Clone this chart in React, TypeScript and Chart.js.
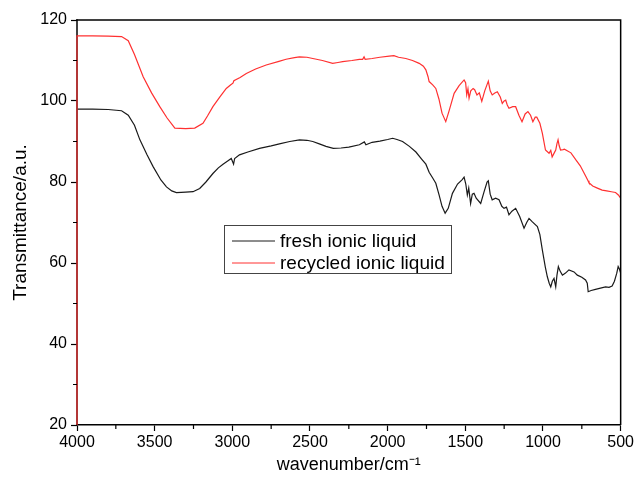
import React, { useEffect, useRef } from "react";
import { Chart, registerables } from "chart.js";

Chart.register(...registerables);

const seriesLabels = ["fresh ionic liquid", "recycled ionic liquid"];
const seriesColors = ["#1a1a1a", "#ff3030"];

const freshWave = [
  4000, 3900, 3800, 3713, 3670, 3630, 3595, 3550, 3510, 3460, 3424, 3390, 3360, 3300, 3253, 3210, 3170, 3125,
  3090, 3060, 3030, 3007, 2998, 2992, 2985, 2954, 2900, 2825, 2750, 2697, 2630, 2568, 2520, 2482, 2440, 2397,
  2350, 2300, 2250, 2182, 2150, 2140, 2100, 2050, 2000, 1968, 1940, 1904, 1860, 1818, 1780, 1754, 1733, 1710,
  1690, 1669, 1650, 1630, 1610, 1583, 1550, 1520, 1508, 1497, 1487, 1478, 1466, 1455, 1444, 1430, 1401, 1380,
  1360, 1352, 1340, 1327, 1305, 1283, 1265, 1251, 1235, 1219, 1200, 1176, 1150, 1122, 1105, 1090, 1070, 1036,
  1020, 1004, 985, 972, 960, 950, 940, 929, 918, 910, 901, 890, 875, 855, 833, 800, 779, 750, 726, 715, 709,
  690, 662, 630, 597, 575, 555, 540, 525, 516, 508, 500,
];
const freshValues = [
  98.0, 98.0, 97.9, 97.6, 96.5, 94.0, 90.4, 86.8, 83.8, 80.5, 78.8, 77.8, 77.4, 77.5, 77.6, 78.4, 80.0, 82.1,
  83.5, 84.4, 85.2, 85.8, 85.0, 84.4, 85.8, 86.7, 87.4, 88.3, 88.9, 89.4, 90.0, 90.4, 90.3, 90.0, 89.4, 88.8,
  88.3, 88.4, 88.6, 89.2, 89.9, 89.2, 89.8, 90.1, 90.5, 90.8, 90.5, 90.0, 88.8, 87.4, 85.6, 84.4, 82.4, 81.0,
  79.7, 76.8, 74.0, 72.3, 73.5, 77.2, 79.5, 80.6, 81.2, 79.5, 76.8, 78.5, 74.7, 77.0, 77.2, 76.0, 74.7, 77.5,
  80.0, 80.3, 77.0, 75.6, 76.0, 75.6, 74.0, 73.5, 73.8, 71.9, 72.8, 73.5, 71.5, 68.6, 70.0, 71.0, 70.2, 69.0,
  67.0, 63.2, 59.0, 56.6, 55.0, 54.1, 55.5, 56.2, 54.1, 57.0, 59.1, 58.0, 57.0, 57.5, 58.3, 57.8, 57.0, 56.5,
  55.8, 55.0, 52.9, 53.2, 53.5, 53.8, 54.1, 54.0, 54.3, 55.5, 57.5, 59.1, 58.5, 57.5,
];

const recycledWave = [
  4000, 4000, 3900, 3800, 3713, 3670, 3630, 3574, 3520, 3467, 3420, 3370, 3300, 3242, 3189, 3160, 3125, 3080,
  3039, 3010, 2996, 2990, 2950, 2910, 2850, 2782, 2700, 2654, 2600, 2568, 2520, 2482, 2420, 2354, 2320, 2290,
  2230, 2182, 2161, 2152, 2145, 2100, 2050, 1990, 1960, 1930, 1883, 1840, 1797, 1770, 1754, 1740, 1733, 1710,
  1690, 1670, 1650, 1626, 1605, 1572, 1540, 1508, 1498, 1491, 1483, 1476, 1465, 1450, 1440, 1425, 1410, 1394,
  1375, 1352, 1340, 1327, 1310, 1294, 1275, 1262, 1250, 1240, 1230, 1219, 1195, 1176, 1155, 1135, 1115, 1097,
  1080, 1065, 1050, 1040, 1020, 1004, 984, 961, 950, 941, 930, 918, 910, 903, 896, 887, 870, 862, 820, 787,
  760, 723, 710, 704, 680, 650, 619, 590, 560, 533, 515, 500,
];
const recycledValues = [
  20.0, 116.1, 116.1, 116.0, 115.9, 114.9, 111.5, 106.0, 102.0, 98.6, 95.8, 93.3, 93.2, 93.3, 94.5, 96.3, 98.6,
  101.0, 103.1, 104.0, 104.4, 105.0, 105.8, 106.8, 107.9, 108.9, 109.8, 110.3, 110.7, 110.9, 110.8, 110.5,
  110.0, 109.3, 109.5, 109.7, 110.0, 110.3, 110.3, 110.9, 110.3, 110.5, 110.8, 111.1, 111.2, 110.8, 110.5,
  110.0, 109.3, 108.6, 107.7, 106.0, 104.8, 104.0, 103.1, 100.5, 97.0, 94.9, 97.5, 101.9, 103.8, 105.2, 104.5,
  101.5, 103.0, 100.7, 102.5, 103.1, 102.8, 101.5, 102.0, 99.9, 102.5, 104.9, 102.5, 101.5, 102.0, 102.3,
  101.0, 99.4, 100.0, 100.2, 99.0, 98.2, 98.6, 98.6, 96.5, 94.9, 96.8, 97.4, 96.5, 94.9, 96.0, 96.0, 94.5,
  92.0, 87.9, 87.1, 87.8, 86.2, 87.0, 87.9, 89.5, 90.4, 89.0, 87.9, 88.0, 88.1, 87.2, 85.4, 84.0, 81.3, 80.3,
  79.8, 79.0, 78.5, 78.0, 77.8, 77.6, 77.4, 76.8, 76.0,
];

const xMin = 500;
const xMax = 4000;
const xStep = 500;
const xMinorTicks = [3750, 3250, 2750, 2250, 1750, 1250, 750];
const yMin = 20;
const yMax = 120;
const yStep = 20;
const yMinorTicks = [30, 50, 70, 90, 110];

const xTitle = "wavenumber/cm\u207B\u00B9";
const yTitle = "Transmittance/a.u.";

const FONT = "'Liberation Sans', Arial, sans-serif";

export default function App() {
  const ref = useRef<HTMLCanvasElement | null>(null);

  useEffect(() => {
    document.body.style.margin = "0";
    const canvas = ref.current;
    if (!canvas) return;

    const framePlugin = {
      id: "frame",
      beforeDatasetsDraw(chart: any) {
        const { ctx, chartArea } = chart;
        ctx.save();
        ctx.strokeStyle = "#000";
        ctx.lineWidth = 1.5;
        ctx.beginPath();
        ctx.moveTo(chartArea.left, chartArea.top - 0.75);
        ctx.lineTo(chartArea.left, chartArea.bottom);
        ctx.stroke();
        ctx.restore();
      },
      afterDraw(chart: any) {
        const { ctx, chartArea } = chart;
        const xs = chart.scales.x;
        const ys = chart.scales.y;
        ctx.save();
        ctx.strokeStyle = "#000";
        ctx.lineWidth = 1.5;
        ctx.beginPath();
        ctx.moveTo(chartArea.left - 0.75, chartArea.top);
        ctx.lineTo(chartArea.right, chartArea.top);
        ctx.lineTo(chartArea.right, chartArea.bottom);
        ctx.stroke();
        // minor ticks
        ctx.lineWidth = 1.2;
        ctx.beginPath();
        for (const v of xMinorTicks) {
          const px = xs.getPixelForValue(v);
          ctx.moveTo(px, chartArea.bottom);
          ctx.lineTo(px, chartArea.bottom + 4);
        }
        for (const v of yMinorTicks) {
          const py = ys.getPixelForValue(v);
          ctx.moveTo(chartArea.left, py);
          ctx.lineTo(chartArea.left - 4, py);
        }
        ctx.stroke();

        // legend
        const bx = 224, by = 225, bw = 227, bh = 48;
        ctx.lineWidth = 1;
        ctx.strokeStyle = "#444";
        ctx.strokeRect(bx + 0.5, by + 0.5, bw, bh);
        ctx.font = "19px " + FONT;
        ctx.textBaseline = "middle";
        ctx.textAlign = "left";
        chart.data.datasets.forEach((ds: any, i: number) => {
          const ly = by + 16 + i * 22;
          ctx.strokeStyle = ds.borderColor;
          ctx.lineWidth = 1;
          ctx.beginPath();
          ctx.moveTo(bx + 8, ly);
          ctx.lineTo(bx + 51, ly);
          ctx.stroke();
          ctx.fillStyle = "#000";
          ctx.fillText(ds.label, bx + 56, ly + 1);
        });
        ctx.restore();
      },
    };

    const chart = new Chart(canvas, {
      type: "line",
      data: {
        datasets: [
          {
            label: seriesLabels[0],
            data: freshWave.map((w, i) => ({ x: w, y: freshValues[i] })),
            borderColor: seriesColors[0],
            borderWidth: 1.2,
            pointRadius: 0,
            tension: 0,
            fill: false,
            order: 1,
          },
          {
            label: seriesLabels[1],
            data: recycledWave.map((w, i) => ({ x: w, y: recycledValues[i] })),
            borderColor: seriesColors[1],
            borderWidth: 1.2,
            pointRadius: 0,
            tension: 0,
            fill: false,
            order: 0,
            clip: false,
          },
        ],
      },
      options: {
        animation: false,
        responsive: true,
        maintainAspectRatio: false,
        layout: { padding: { top: 20, right: 14, left: 0, bottom: 0 } },
        plugins: {
          legend: { display: false },
          tooltip: { enabled: false },
        },
        scales: {
          x: {
            type: "linear",
            reverse: true,
            min: xMin,
            max: xMax,
            afterFit: (s: any) => {
              s.height = 63;
            },
            ticks: {
              stepSize: xStep,
              color: "#000",
              font: { family: FONT, size: 16 },
              padding: 2,
              maxRotation: 0,
              callback: (v: any) => String(v),
            },
            grid: {
              display: true,
              drawOnChartArea: false,
              drawTicks: true,
              tickLength: 6,
              tickColor: "#000",
              tickWidth: 1.2,
            },
            border: { display: true, color: "#000", width: 1.5 },
            title: {
              display: true,
              text: xTitle,
              color: "#000",
              font: { family: FONT, size: 18 },
              padding: { top: 0, bottom: 12 },
            },
          },
          y: {
            type: "linear",
            min: yMin,
            max: yMax,
            afterFit: (s: any) => {
              s.width = 77;
            },
            ticks: {
              stepSize: yStep,
              color: "#000",
              font: { family: FONT, size: 16 },
              padding: 4,
              callback: (v: any) => String(v),
            },
            grid: {
              display: true,
              drawOnChartArea: false,
              drawTicks: true,
              tickLength: 6,
              tickColor: "#000",
              tickWidth: 1.2,
            },
            border: { display: false },
            title: {
              display: true,
              text: yTitle,
              color: "#000",
              font: { family: FONT, size: 19 },
              padding: { top: 9, bottom: 0 },
            },
          },
        },
      },
      plugins: [framePlugin],
    });

    return () => chart.destroy();
  }, []);

  return (
    <div style={{ position: "fixed", left: 0, top: 0, width: 636, height: 488, background: "#fff" }}>
      <canvas ref={ref} />
    </div>
  );
}
